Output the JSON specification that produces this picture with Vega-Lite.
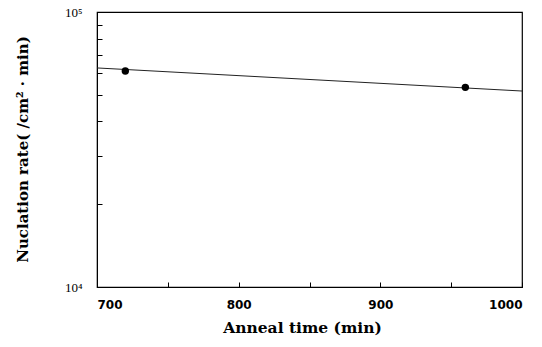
{
  "$schema": "https://vega.github.io/schema/vega-lite/v6.json",
  "width": 425,
  "height": 275,
  "autosize": {"type": "none"},
  "padding": {"left": 97, "top": 12, "right": 20, "bottom": 60},
  "background": "white",
  "config": {
    "view": {"stroke": "black", "strokeWidth": 1.2},
    "axis": {"domainColor": "black", "tickColor": "black", "labelColor": "black", "titleColor": "black", "grid": false}
  },
  "datasets": {
    "fit": [
      {"time": 700, "rate": 62600},
      {"time": 1000, "rate": 51600}
    ],
    "obs": [
      {"time": 720, "rate": 61000},
      {"time": 960, "rate": 53200}
    ]
  },
  "layer": [
    {
      "data": {"name": "fit"},
      "mark": {"type": "line", "color": "#222", "strokeWidth": 1},
      "encoding": {
        "x": {
          "field": "time", "type": "quantitative",
          "scale": {"domain": [700, 1000], "nice": false, "zero": false},
          "axis": {
            "values": [700, 750, 800, 850, 900, 950, 1000],
            "labelExpr": "datum.value % 100 == 0 ? datum.label : ''",
            "format": "d",
            "tickSize": -5,
            "labelPadding": 17,
            "labelFont": "DejaVu Sans",
            "labelFontSize": 12,
            "labelFontWeight": "bold",
            "title": "Anneal time (min)",
            "titleFont": "DejaVu Serif",
            "titleFontSize": 15.5,
            "titleFontWeight": "bold",
            "titleX": 205,
            "titleY": 40,
            "titleBaseline": "middle"
          }
        },
        "y": {
          "field": "rate", "type": "quantitative",
          "scale": {"type": "log", "domain": [10000, 100000], "nice": false},
          "axis": {
            "values": [10000, 20000, 30000, 40000, 50000, 60000, 70000, 80000, 90000, 100000],
            "labelExpr": "datum.value == 100000 ? '10⁵' : (datum.value == 10000 ? '10⁴' : '')",
            "tickSize": -5,
            "labelPadding": 20,
            "labelFont": "Liberation Serif",
            "labelFontSize": 13,
            "title": "Nuclation rate( /cm² · min)",
            "titleFont": "DejaVu Serif",
            "titleFontSize": 15,
            "titleFontWeight": "bold",
            "titleX": -75,
            "titleY": 137,
            "titleBaseline": "middle"
          }
        }
      }
    },
    {
      "data": {"name": "obs"},
      "mark": {"type": "point", "filled": true, "color": "black", "size": 55, "opacity": 1},
      "encoding": {
        "x": {"field": "time", "type": "quantitative"},
        "y": {"field": "rate", "type": "quantitative"}
      }
    }
  ]
}
